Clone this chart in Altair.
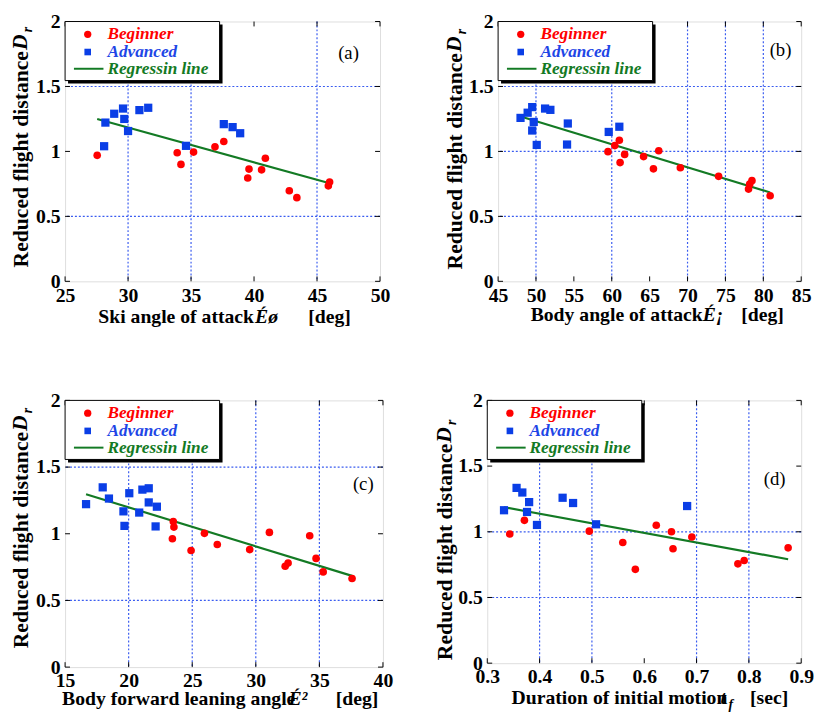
import altair as alt
import pandas as pd

# ---------------- data ----------------
# (a) Ski angle of attack
a_beg_x = [27.55, 33.9, 34.2, 35.2, 36.9, 37.6, 39.6, 39.5, 40.6, 40.9, 42.8, 43.4, 46.0, 45.9]
a_beg_y = [0.97, 0.99, 0.90, 0.995, 1.035, 1.076, 0.864, 0.795, 0.858, 0.947, 0.697, 0.644, 0.765, 0.735]
a_adv_x = [28.2, 28.9, 29.6, 29.7, 30.0, 28.1, 30.9, 31.6, 34.6, 37.6, 38.3, 38.9]
a_adv_y = [1.222, 1.29, 1.33, 1.25, 1.157, 1.04, 1.318, 1.336, 1.043, 1.21, 1.187, 1.14]
a_reg_x = [27.55, 46.0]
a_reg_y = [1.25, 0.755]

# (b) Body angle of attack
b_beg_x = [59.5, 60.4, 61.0, 61.7, 61.1, 64.2, 66.2, 65.5, 69.05, 74.1, 78.5, 78.2, 78.05, 80.9]
b_beg_y = [0.998, 1.045, 1.086, 0.977, 0.914, 0.96, 1.005, 0.866, 0.874, 0.808, 0.775, 0.748, 0.71, 0.659]
b_adv_x = [47.96, 48.9, 49.5, 49.7, 49.5, 50.1, 51.2, 51.9, 54.2, 54.1, 59.6, 61.0]
b_adv_y = [1.258, 1.298, 1.341, 1.227, 1.161, 1.05, 1.33, 1.32, 1.215, 1.053, 1.15, 1.19]
b_reg_x = [48.2, 80.9]
b_reg_y = [1.265, 0.684]

# (c) Body forward leaning angle
c_beg_x = [23.51, 23.56, 23.44, 24.91, 25.96, 26.97, 29.52, 31.07, 34.24, 34.74, 32.54, 32.31, 35.3, 37.57]
c_beg_y = [1.092, 1.05, 0.963, 0.874, 1.003, 0.919, 0.881, 1.01, 0.985, 0.815, 0.78, 0.756, 0.714, 0.664]
c_adv_x = [16.65, 17.96, 18.45, 19.59, 19.67, 20.05, 20.83, 21.08, 21.58, 21.58, 22.22, 22.12]
c_adv_y = [1.222, 1.348, 1.264, 1.168, 1.059, 1.304, 1.159, 1.331, 1.341, 1.235, 1.203, 1.055]
c_reg_x = [16.65, 37.57]
c_reg_y = [1.296, 0.684]

# (d) Duration of initial motion
d_beg_x = [0.343, 0.371, 0.495, 0.559, 0.583, 0.623, 0.652, 0.655, 0.691, 0.779, 0.791, 0.875]
d_beg_y = [0.983, 1.087, 1.005, 0.918, 0.714, 1.05, 1.0, 0.871, 0.96, 0.756, 0.781, 0.878]
d_adv_x = [0.332, 0.356, 0.367, 0.380, 0.376, 0.395, 0.444, 0.464, 0.508, 0.682]
d_adv_y = [1.164, 1.334, 1.299, 1.226, 1.151, 1.052, 1.259, 1.219, 1.057, 1.196]
d_reg_x = [0.332, 0.875]
d_reg_y = [1.187, 0.791]

y_ticks = [0, 0.5, 1, 1.5, 2]
legend_labels = ["Beginner", "Advanced", "Regressin line"]
y_title = ["Reduced flight distance", "D", "r"]

panels = [
    dict(tag="(a)", beg=(a_beg_x, a_beg_y), adv=(a_adv_x, a_adv_y), reg=(a_reg_x, a_reg_y),
         xdom=[25, 50], xticks=[25, 30, 35, 40, 45, 50],
         vgrid=[30, 35, 45], hgrid=[0.5, 1.5],
         xtitle=["Ski angle of attack", "Éø", "[deg]"],
         w=320, h=264, tagpos=(288, 32), ypos=(-45, 30),
         xt=(192, 193, 247, 36)),
    dict(tag="(b)", beg=(b_beg_x, b_beg_y), adv=(b_adv_x, b_adv_y), reg=(b_reg_x, b_reg_y),
         xdom=[45, 85], xticks=[45, 50, 55, 60, 65, 70, 75, 80, 85],
         vgrid=[50, 60, 70, 75, 80], hgrid=[0.5, 1, 1.5],
         xtitle=["Body angle of attack", "É¡", "[deg]"],
         w=308, h=264, tagpos=(287, 29), ypos=(-44, 32),
         xt=(208, 208, 247, 34)),
    dict(tag="(c)", beg=(c_beg_x, c_beg_y), adv=(c_adv_x, c_adv_y), reg=(c_reg_x, c_reg_y),
         xdom=[15, 40], xticks=[15, 20, 25, 30, 35, 40],
         vgrid=[20, 25, 30, 35], hgrid=[0.5, 1.5],
         xtitle=["Body forward leaning angle", "É²", "[deg]"],
         w=323, h=271, tagpos=(303, 85), ypos=(-45, 32),
         xt=(234, 227, 275, 33)),
    dict(tag="(d)", beg=(d_beg_x, d_beg_y), adv=(d_adv_x, d_adv_y), reg=(d_reg_x, d_reg_y),
         xdom=[0.3, 0.9], xticks=[0.3, 0.4, 0.5, 0.6, 0.7, 0.8, 0.9],
         vgrid=[0.4, 0.5, 0.7, 0.8], hgrid=[0.5, 1],
         xtitle=["Duration of initial motion", "t", "[sec]"],
         w=319, h=267, tagpos=(292, 80), ypos=(-43, 44),
         xt=(244, 237, 267, 35)),
]

RED = "#ff0000"
BLUE = "#0a3ee6"
GREEN = "#137a24"
GRID = "#3a5cf0"
SERIF = "Liberation Serif"
one = pd.DataFrame({"d": [0]})


def txt(text, x, y, size=20, style="normal", weight="bold", color="black", align="left", angle=0):
    kw = dict(text=text, font=SERIF, fontSize=size, fontWeight=weight, fontStyle=style,
              color=color, align=align, baseline="middle")
    if angle:
        kw["angle"] = angle
    return alt.Chart(one).mark_text(**kw).encode(x=alt.value(x), y=alt.value(y))


def panel(p):
    w, h = p["w"], p["h"]
    xs = alt.Scale(domain=p["xdom"], nice=False, zero=False)
    ys = alt.Scale(domain=[0, 2], nice=False, zero=False)
    xax = alt.Axis(values=p["xticks"], format="~g", grid=False, ticks=False, domain=False,
                   labelFont=SERIF, labelFontWeight="bold", labelFontSize=20, labelColor="black",
                   labelPadding=4, labelFlush=False, labelOverlap=False, title=None)
    yax = alt.Axis(values=y_ticks, format="~g", grid=False, ticks=False, domain=False,
                   labelFont=SERIF, labelFontWeight="bold", labelFontSize=20, labelColor="black",
                   labelPadding=5, labelFlush=False, labelOverlap=False, title=None)
    X = lambda f: alt.X(f + ":Q", scale=xs, axis=xax)
    Y = lambda f: alt.Y(f + ":Q", scale=ys, axis=yax)

    vg = alt.Chart(pd.DataFrame({"v": p["vgrid"]})).mark_rule(
        color=GRID, strokeDash=[2, 2], strokeWidth=1.2).encode(x=X("v"))
    hg = alt.Chart(pd.DataFrame({"v": p["hgrid"]})).mark_rule(
        color=GRID, strokeDash=[2, 2], strokeWidth=1.2).encode(y=Y("v"))

    xt = pd.DataFrame({"v": p["xticks"]})
    yt = pd.DataFrame({"v": y_ticks})
    tb = alt.Chart(xt).mark_rule(color="black", strokeWidth=1).encode(
        x=X("v"), y=alt.value(h), y2=alt.value(h - 5))
    tt = alt.Chart(xt).mark_rule(color="black", strokeWidth=1).encode(
        x=X("v"), y=alt.value(0), y2=alt.value(5))
    tl = alt.Chart(yt).mark_rule(color="black", strokeWidth=1).encode(
        y=Y("v"), x=alt.value(0), x2=alt.value(5))
    tr = alt.Chart(yt).mark_rule(color="black", strokeWidth=1).encode(
        y=Y("v"), x=alt.value(w), x2=alt.value(w - 5))

    reg = alt.Chart(pd.DataFrame({"x": p["reg"][0], "y": p["reg"][1]})).mark_line(
        color=GREEN, strokeWidth=2.2).encode(x=X("x"), y=Y("y"))
    beg = alt.Chart(pd.DataFrame({"x": p["beg"][0], "y": p["beg"][1]})).mark_point(
        shape="circle", filled=True, color=RED, opacity=1, size=60).encode(x=X("x"), y=Y("y"))
    adv = alt.Chart(pd.DataFrame({"x": p["adv"][0], "y": p["adv"][1]})).mark_point(
        shape="square", filled=True, color=BLUE, opacity=1, size=70).encode(x=X("x"), y=Y("y"))

    # legend box
    shadow = alt.Chart(one).mark_rect(color="black").encode(
        x=alt.value(3), x2=alt.value(160), y=alt.value(3), y2=alt.value(63))
    box = alt.Chart(one).mark_rect(fill="white", stroke="black", strokeWidth=1).encode(
        x=alt.value(0), x2=alt.value(157), y=alt.value(0), y2=alt.value(60))
    lc = alt.Chart(one).mark_point(shape="circle", filled=True, color=RED, opacity=1, size=55).encode(
        x=alt.value(23), y=alt.value(13))
    ls = alt.Chart(one).mark_point(shape="square", filled=True, color=BLUE, opacity=1, size=45).encode(
        x=alt.value(23), y=alt.value(31))
    ll = alt.Chart(one).mark_rule(color=GREEN, strokeWidth=2).encode(
        x=alt.value(9), x2=alt.value(39), y=alt.value(48))
    t1 = txt(legend_labels[0], 43, 13, size=17.5, style="italic", color=RED)
    t2 = txt(legend_labels[1], 43, 31, size=17.5, style="italic", color="#1e46e6")
    t3 = txt(legend_labels[2], 43, 48, size=17.5, style="italic", color=GREEN)

    tag = txt(p["tag"], p["tagpos"][0], p["tagpos"][1], size=19, weight="normal", align="center")

    # axis titles
    a1, a2, a3, dy = p["xt"]
    xt1 = txt(p["xtitle"][0], a1, h + dy, align="right")
    xt2 = txt(p["xtitle"][1], a2, h + dy, style="italic")
    xt3 = txt(p["xtitle"][2], a3, h + dy)
    extra = []
    if p["tag"] == "(d)":
        extra.append(txt("f", a2 + 8, h + dy + 8, size=14, style="italic"))
    yx, ye = p["ypos"]
    yt1 = txt(y_title[0], yx, ye, size=22, align="right", angle=270)
    yt2 = txt(y_title[1], yx - 1, ye - 1, size=22, style="italic", angle=270)
    yt3 = txt(y_title[2], yx + 7, ye - 19, size=14, style="italic", angle=270)

    layers = [vg, hg, tb, tt, tl, tr, reg, beg, adv, shadow, box, lc, ls, ll, t1, t2, t3,
              tag, xt1, xt2, xt3, yt1, yt2, yt3] + extra
    return alt.layer(*layers).properties(width=w, height=h)


pa, pb, pc, pd_ = [panel(p) for p in panels]
row1 = alt.hconcat(pa, pb, spacing=52)
row2 = alt.hconcat(pc, pd_, spacing=39)
chart = alt.vconcat(row1, row2, spacing=63).properties(
    padding={"left": 0, "top": -3, "right": 0, "bottom": 0}
).configure_view(stroke="black", strokeWidth=1.5).configure(background="white")

chart.save("out.html", embed_options={"renderer": "svg", "actions": False})
